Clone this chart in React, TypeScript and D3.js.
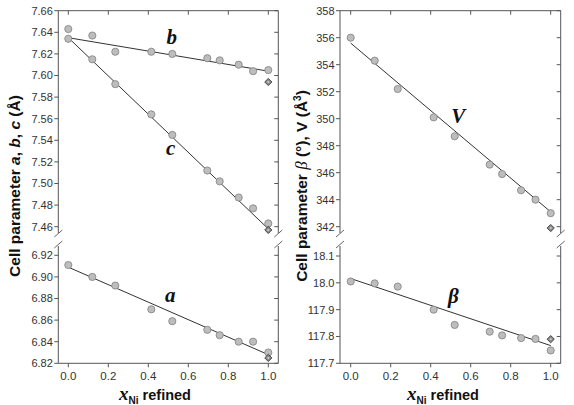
import * as d3 from "d3";

// composition x_Ni (refined)
const xNi = [0, 0.12, 0.235, 0.415, 0.52, 0.695, 0.757, 0.852, 0.924, 1.0];

// left panel
const bVals = [7.643, 7.637, 7.622, 7.622, 7.62, 7.616, 7.614, 7.61, 7.604, 7.605];
const cVals = [7.634, 7.615, 7.592, 7.564, 7.545, 7.512, 7.502, 7.487, 7.477, 7.463];
const aVals = [6.911, 6.9, 6.892, 6.87, 6.859, 6.851, 6.846, 6.84, 6.84, 6.83];
// right panel
const vVals = [356.0, 354.3, 352.2, 350.1, 348.7, 346.6, 345.9, 344.7, 344.0, 343.0];
const betaVals = [118.005, 117.998, 117.986, 117.9, 117.843, 117.818, 117.804, 117.794, 117.791, 117.748];

// reference points (diamonds) at x = 1
const diamondB = 7.594;
const diamondC = 7.457;
const diamondA = 6.825;
const diamondV = 341.9;
const diamondBeta = 117.79;

// linear fits, value at x=0 and x=1
const fitB = [7.635, 7.604];
const fitC = [7.635, 7.458];
const fitA = [6.909, 6.828];
const fitV = [355.6, 343.1];
const fitBeta = [118.016, 117.766];

const xTicks = [0, 0.2, 0.4, 0.6, 0.8, 1.0];
const leftTopTicks = [7.46, 7.48, 7.5, 7.52, 7.54, 7.56, 7.58, 7.6, 7.62, 7.64, 7.66];
const leftBotTicks = [6.82, 6.84, 6.86, 6.88, 6.9, 6.92];
const rightTopTicks = [342, 344, 346, 348, 350, 352, 354, 356, 358];
const rightBotTicks = [117.7, 117.8, 117.9, 118.0, 118.1];
const rightBotLabels = ["117.7", "117.8", "117.9", "18.0", "18.1"];

const TOP = 10.7;
const BOT = 363.3;
const GAP_A = 233;
const GAP_B = 246;

const sans = "'Liberation Sans', Arial, sans-serif";
const serif = "'Liberation Serif', 'Times New Roman', serif";

type Seg = {
  y: d3.ScaleLinear<number, number>;
  ticks: number[];
  labels: string[];
  y0: number;
  y1: number;
};

const Diamond = ({ cx, cy }: { cx: number; cy: number }) => (
  <g>
    <path
      d={`M${cx},${cy - 3.6}L${cx + 3.6},${cy}L${cx},${cy + 3.6}L${cx - 3.6},${cy}Z`}
      fill="#8c8c8c"
      stroke="#3a3a3a"
      strokeWidth={0.9}
    />
    <circle cx={cx} cy={cy} r={1} fill="#d0d0d0" />
  </g>
);

const Panel = ({
  x,
  left,
  right,
  segs,
  children,
}: {
  x: d3.ScaleLinear<number, number>;
  left: number;
  right: number;
  segs: Seg[];
  children?: any;
}) => {
  const axisColor = "#555";
  const breakMark = (px: number) => (
    <g stroke={axisColor} strokeWidth={0.9}>
      <line x1={px - 4} y1={GAP_A + 4} x2={px + 4} y2={GAP_A - 3} />
      <line x1={px - 4} y1={GAP_B + 2} x2={px + 4} y2={GAP_B - 5} />
    </g>
  );
  return (
    <g>
      {/* frame */}
      <g stroke={axisColor} strokeWidth={1} fill="none">
        <line x1={left} x2={right} y1={TOP} y2={TOP} />
        <line x1={left} x2={right} y1={BOT} y2={BOT} />
        {segs.map((s, i) => (
          <g key={i}>
            <line x1={left} x2={left} y1={s.y0} y2={s.y1} />
            <line x1={right} x2={right} y1={s.y0} y2={s.y1} />
          </g>
        ))}
      </g>
      {breakMark(left)}
      {breakMark(right)}
      {/* y ticks */}
      {segs.map((s, i) => (
        <g key={i}>
          {s.ticks.map((t, j) => (
            <g key={j}>
              <line x1={left - 4} x2={left} y1={s.y(t)} y2={s.y(t)} stroke={axisColor} />
              <line x1={right - 4} x2={right} y1={s.y(t)} y2={s.y(t)} stroke={axisColor} />
              <text
                x={left - 5.5}
                y={s.y(t)}
                dy="0.35em"
                textAnchor="end"
                fontFamily={sans}
                fontSize={11}
                fill="#333"
              >
                {s.labels[j]}
              </text>
            </g>
          ))}
        </g>
      ))}
      {/* x ticks */}
      {xTicks.map((t, i) => (
        <g key={i}>
          <line x1={x(t)} x2={x(t)} y1={TOP} y2={TOP + 4} stroke={axisColor} />
          <line x1={x(t)} x2={x(t)} y1={BOT} y2={BOT + 4} stroke={axisColor} />
          <text
            x={x(t)}
            y={379.5}
            textAnchor="middle"
            fontFamily={sans}
            fontSize={11.5}
            fill="#333"
          >
            {d3.format(".1f")(t)}
          </text>
        </g>
      ))}
      {children}
    </g>
  );
};

const Series = ({
  x,
  y,
  vals,
  fit,
  diamond,
}: {
  x: d3.ScaleLinear<number, number>;
  y: d3.ScaleLinear<number, number>;
  vals: number[];
  fit: number[];
  diamond: number;
}) => (
  <g>
    <line x1={x(0)} y1={y(fit[0])} x2={x(1)} y2={y(fit[1])} stroke="#333" strokeWidth={1} />
    {vals.map((v, i) => (
      <circle key={i} cx={x(xNi[i])} cy={y(v)} r={3.6} fill="#bdbdbd" stroke="#808080" strokeWidth={0.8} />
    ))}
    <Diamond cx={x(1)} cy={y(diamond)} />
  </g>
);

const Label = ({ x, y, text }: { x: number; y: number; text: string }) => (
  <text x={x} y={y} textAnchor="middle" fontFamily={serif} fontStyle="italic" fontWeight="bold" fontSize={21} fill="#111">
    {text}
  </text>
);

const XTitle = ({ cx }: { cx: number }) => (
  <text x={cx} y={400} textAnchor="middle" fontFamily={sans} fontWeight="bold" fontSize={14.5} fill="#111">
    <tspan fontFamily={serif} fontStyle="italic" fontSize={19}>x</tspan>
    <tspan fontSize={10} dy={4}>Ni</tspan>
    <tspan dy={-4}> refined</tspan>
  </text>
);

export default function App() {
  const xL = d3.scaleLinear().domain([0, 1]).range([68.3, 268.3]);
  const xR = d3.scaleLinear().domain([0, 1]).range([350.7, 550.7]);

  const yTopL = d3.scaleLinear().domain([7.46, 7.66]).range([226.7, TOP]);
  const yBotL = d3.scaleLinear().domain([6.82, 6.92]).range([BOT, 255.3]);
  const yTopR = d3.scaleLinear().domain([342, 358]).range([226.7, TOP]);
  const yBotR = d3.scaleLinear().domain([117.7, 118.1]).range([BOT, 256]);

  const leftSegs: Seg[] = [
    { y: yTopL, ticks: leftTopTicks, labels: leftTopTicks.map(d3.format(".2f")), y0: TOP, y1: GAP_A },
    { y: yBotL, ticks: leftBotTicks, labels: leftBotTicks.map(d3.format(".2f")), y0: GAP_B, y1: BOT },
  ];
  const rightSegs: Seg[] = [
    { y: yTopR, ticks: rightTopTicks, labels: rightTopTicks.map(String), y0: TOP, y1: GAP_A },
    { y: yBotR, ticks: rightBotTicks, labels: rightBotLabels, y0: GAP_B, y1: BOT },
  ];

  return (
    <svg
      width={574}
      height={405}
      style={{ position: "absolute", left: 0, top: 0, background: "#fff" }}
    >
      <Panel x={xL} left={58.3} right={278.3} segs={leftSegs}>
        <Series x={xL} y={yTopL} vals={bVals} fit={fitB} diamond={diamondB} />
        <Series x={xL} y={yTopL} vals={cVals} fit={fitC} diamond={diamondC} />
        <Series x={xL} y={yBotL} vals={aVals} fit={fitA} diamond={diamondA} />
        <Label x={xL(0.517)} y={yTopL(7.6288)} text="b" />
        <Label x={xL(0.512)} y={yTopL(7.5264)} text="c" />
        <Label x={xL(0.51)} y={yBotL(6.877)} text="a" />
      </Panel>
      <Panel x={xR} left={340} right={560.7} segs={rightSegs}>
        <Series x={xR} y={yTopR} vals={vVals} fit={fitV} diamond={diamondV} />
        <Series x={xR} y={yBotR} vals={betaVals} fit={fitBeta} diamond={diamondBeta} />
        <Label x={xR(0.538)} y={yTopR(349.7)} text="V" />
        <Label x={xR(0.513)} y={yBotR(117.923)} text="β" />
      </Panel>

      <XTitle cx={155} />
      <XTitle cx={443} />

      <text
        transform="translate(20,186) rotate(-90)"
        textAnchor="middle"
        fontFamily={sans}
        fontWeight="bold"
        fontSize={15.5}
        fill="#111"
      >
        Cell parameter <tspan fontStyle="italic">a</tspan>, <tspan fontStyle="italic">b</tspan>,{" "}
        <tspan fontStyle="italic">c</tspan> (Å)
      </text>
      <text
        transform="translate(307,186) rotate(-90)"
        textAnchor="middle"
        fontFamily={sans}
        fontWeight="bold"
        fontSize={15.5}
        fill="#111"
      >
        Cell parameter <tspan fontStyle="italic" fontWeight="normal" fontFamily={serif} fontSize={17}>β</tspan> (°), V (Å
        <tspan fontSize={10} dy={-6}>3</tspan>
        <tspan dy={6}>)</tspan>
      </text>
    </svg>
  );
}
